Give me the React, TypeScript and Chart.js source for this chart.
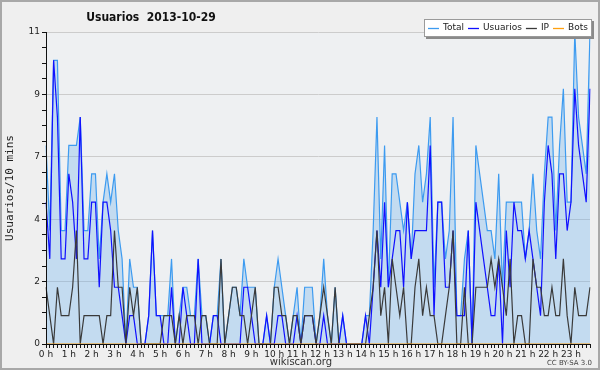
import React, { useEffect, useRef } from 'react';
import { Chart, registerables } from 'chart.js';

Chart.register(...registerables);

const hours = ['0 h','1 h','2 h','3 h','4 h','5 h','6 h','7 h','8 h','9 h','10 h','11 h','12 h','13 h','14 h','15 h','16 h','17 h','18 h','19 h','20 h','21 h','22 h','23 h'];
const minutes = ['00','10','20','30','40','50'];

const total = [
  7,4,10,10,4,4,7,7,7,8,4,4,6,6,3,5,6,5,
  6,4,3,0,3,2,2,0,0,1,4,1,1,1,1,3,0,1,
  2,2,1,1,3,1,1,0,1,1,3,0,1,2,2,1,3,2,
  2,2,0,0,1,0,2,3,2,1,0,1,2,0,2,2,2,0,
  1,3,1,0,2,0,1,0,0,0,0,0,1,1,4,8,3,7,
  2,6,6,5,4,5,3,6,7,5,6,8,2,5,5,3,4,8,
  1,1,3,4,0,7,6,5,4,4,3,6,2,5,5,5,5,5,
  3,4,6,4,3,6,8,8,4,7,9,5,5,11,8,7,6,11
];
const usuarios = [
  5,3,10,8,3,3,6,5,3,8,3,3,5,5,2,5,5,4,
  2,2,1,0,1,1,0,0,0,1,4,1,1,0,0,2,0,0,
  2,1,0,0,3,0,0,0,1,1,0,0,0,0,0,0,2,2,
  1,0,0,0,1,0,0,1,1,0,0,0,1,0,1,1,1,0,
  0,1,0,0,0,0,1,0,0,0,0,0,1,0,2,4,2,5,
  2,3,4,4,2,5,3,4,4,4,4,7,1,5,5,2,2,4,
  1,1,1,4,0,5,4,3,2,1,1,3,0,4,2,5,4,4,
  3,4,3,2,1,5,7,6,3,6,6,4,5,9,7,6,5,9
];
const ip = [
  2,1,0,2,1,1,1,2,4,0,1,1,1,1,1,0,1,1,
  4,2,2,0,2,1,2,0,0,0,0,0,0,1,1,1,0,1,
  0,1,1,1,0,1,1,0,0,0,3,0,1,2,2,1,1,0,
  1,2,0,0,0,0,2,2,1,1,0,1,1,0,1,1,1,0,
  1,2,1,0,2,0,0,0,0,0,0,0,0,1,2,4,1,2,
  0,3,2,1,2,0,0,2,3,1,2,1,1,0,0,1,2,4,
  0,0,2,0,0,2,2,2,2,3,2,3,2,1,3,0,1,1,
  0,0,3,2,2,1,1,2,1,1,3,1,0,2,1,1,1,2
];
const bots = [
  0,0,0,0,0,0,0,0,0,0,0,0,0,0,0,0,0,0,
  0,0,0,0,0,0,0,0,0,0,0,0,0,0,0,0,0,0,
  0,0,0,0,0,0,0,0,0,0,0,0,0,0,0,0,0,0,
  0,0,0,0,0,0,0,0,0,0,0,0,0,0,0,0,0,0,
  0,0,0,0,0,0,0,0,0,0,0,0,0,0,0,0,0,0,
  0,0,0,0,0,0,0,0,0,0,0,0,0,0,0,0,0,0,
  0,0,0,0,0,0,0,0,0,0,0,0,0,0,0,0,0,0,
  0,0,0,0,0,0,0,0,0,0,0,0,0,0,0,0,0,0
];

const titleText = 'Usuarios  2013-10-29';
const yTitle = 'Usuarios/10 mins';
const footerText = 'wikiscan.org';
const licenseText = 'CC BY-SA 3.0';
const seriesNames = ['Total', 'Usuarios', 'IP', 'Bots'];
const seriesColors = ['#3d9bf0', '#1010ff', '#3a3a3a', '#ffa010'];

const Y_MAX = 11;
const FONT = '"DejaVu Sans", sans-serif';

const decorPlugin = {
  id: 'decor',
  beforeDraw(chart: any) {
    const { ctx, chartArea: a } = chart;
    ctx.save();
    ctx.fillStyle = '#efefef';
    ctx.fillRect(0, 0, chart.width, chart.height);
    ctx.fillStyle = '#eef0f2';
    ctx.fillRect(a.left, a.top, a.right - a.left, a.bottom - a.top);
    ctx.restore();
  },
  afterDraw(chart: any) {
    const { ctx, chartArea: a } = chart;
    ctx.save();
    // title
    ctx.fillStyle = '#111';
    ctx.font = 'bold 12px "DejaVu Sans Condensed", "DejaVu Sans", sans-serif';
    ctx.textAlign = 'center';
    ctx.textBaseline = 'middle';
    ctx.fillText(titleText, 151, 18);
    // y title
    ctx.save();
    ctx.translate(10, (a.top + a.bottom) / 2);
    ctx.rotate(-Math.PI / 2);
    ctx.font = '11px "DejaVu Sans Mono", monospace';
    ctx.fillStyle = '#222';
    ctx.textAlign = 'center';
    ctx.textBaseline = 'middle';
    ctx.fillText(yTitle, 0, 0);
    ctx.restore();
    // footer
    ctx.font = '10px ' + FONT;
    ctx.fillStyle = '#333';
    ctx.textAlign = 'center';
    ctx.textBaseline = 'middle';
    ctx.fillText(footerText, 301, 362);
    ctx.font = '7px ' + FONT;
    ctx.textAlign = 'right';
    ctx.fillStyle = '#444';
    ctx.fillText(licenseText, 592, 363);
    // legend box
    const lx = 424, ly = 19, lw = 168, lh = 18;
    ctx.fillStyle = '#8a8a8a';
    ctx.fillRect(lx + 2, ly + 2, lw, lh);
    ctx.fillStyle = '#ffffff';
    ctx.fillRect(lx, ly, lw, lh);
    ctx.strokeStyle = '#9a9a9a';
    ctx.lineWidth = 1;
    ctx.strokeRect(lx + 0.5, ly + 0.5, lw - 1, lh - 1);
    ctx.font = '9px ' + FONT;
    ctx.textAlign = 'left';
    ctx.textBaseline = 'middle';
    let x = lx + 4;
    const cy = ly + lh / 2;
    seriesNames.forEach((name, i) => {
      ctx.strokeStyle = seriesColors[i];
      ctx.lineWidth = 1.3;
      ctx.beginPath();
      ctx.moveTo(x, cy + 0.5);
      ctx.lineTo(x + 11, cy + 0.5);
      ctx.stroke();
      x += 15;
      ctx.fillStyle = '#222';
      ctx.fillText(name, x, cy);
      x += ctx.measureText(name).width + 4;
    });
    // outer frame
    ctx.strokeStyle = '#a8a8a8';
    ctx.lineWidth = 2;
    ctx.strokeRect(1, 1, chart.width - 2, chart.height - 2);
    ctx.restore();
  }
};

export default function App() {
  const ref = useRef<HTMLCanvasElement>(null);
  useEffect(() => {
    document.body.style.margin = '0';
    const labels: string[] = [];
    hours.forEach(h => minutes.forEach(m => labels.push(h.replace(' h', '') + ':' + m)));
    const mk = (label: string, data: number[], color: string, order: number, extra: any = {}) => ({
      label, data, borderColor: color, borderWidth: 1.2, pointRadius: 0, tension: 0, order, ...extra
    });
    const chart = new Chart(ref.current as HTMLCanvasElement, {
      type: 'line',
      data: {
        labels,
        datasets: [
          mk(seriesNames[0], total, seriesColors[0], 4, { fill: 'origin', backgroundColor: 'rgba(105,173,235,0.32)' }),
          mk(seriesNames[1], usuarios, seriesColors[1], 3, { fill: false }),
          mk(seriesNames[2], ip, seriesColors[2], 2, { fill: false }),
          mk(seriesNames[3], bots, seriesColors[3], 1, { fill: false })
        ]
      },
      options: {
        responsive: false,
        animation: false,
        devicePixelRatio: 1,
        layout: { padding: { left: 0, top: 32, right: 10, bottom: 0 } },
        plugins: { legend: { display: false }, title: { display: false }, tooltip: { enabled: false } },
        scales: {
          x: {
            type: 'category',
            offset: false,
            afterFit: (s: any) => { s.height = 26; },
            grid: { drawOnChartArea: false, drawTicks: true, tickLength: 4, tickColor: '#111' },
            border: { display: true, color: '#111', width: 1, z: 1 },
            ticks: {
              autoSkip: false, maxRotation: 0, minRotation: 0, padding: 1,
              font: { family: FONT, size: 9 }, color: '#222',
              callback: (_v: any, i: number) => (i % 6 === 0 ? hours[i / 6] : '')
            }
          },
          y: {
            min: 0, max: Y_MAX,
            afterFit: (s: any) => { s.width = 46; },
            grid: {
              drawTicks: true, tickLength: 4, tickColor: '#111',
              color: (c: any) => (c.index > 0 && c.index % 4 === 0 ? '#cccccc' : 'rgba(0,0,0,0)')
            },
            border: { display: true, color: '#111', width: 1, z: 1 },
            ticks: {
              stepSize: Y_MAX / 20, autoSkip: false, padding: 2,
              font: { family: FONT, size: 9 }, color: '#222',
              callback: (v: any, i: number) => (i % 4 === 0 ? String(Math.round(Number(v))) : '')
            }
          }
        }
      },
      plugins: [decorPlugin]
    });
    return () => chart.destroy();
  }, []);
  return (
    <div style={{ width: 600, height: 370 }}>
      <canvas ref={ref} width={600} height={370} />
    </div>
  );
}
